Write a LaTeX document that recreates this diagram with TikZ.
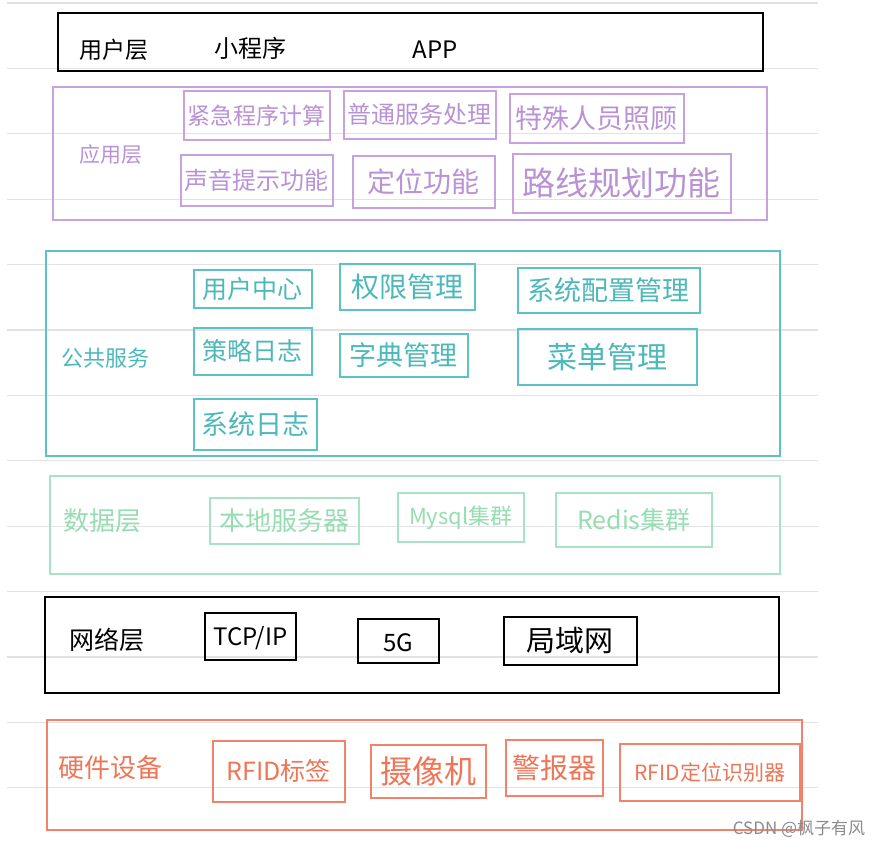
\documentclass[tikz,border=0pt]{standalone}
\usepackage{fontspec}
\newfontfamily\cjk{Noto Sans CJK SC}
\definecolor{purp}{HTML}{C8A2DE}
\definecolor{purpt}{HTML}{B992D6}
\definecolor{teal}{HTML}{5CC2C4}
\definecolor{tealt}{HTML}{4DB8BA}
\definecolor{grn}{HTML}{A8E4C2}
\definecolor{grnt}{HTML}{96DDB2}
\definecolor{orng}{HTML}{F2836A}
\definecolor{orngt}{HTML}{EE7657}
\definecolor{paperline}{HTML}{E2E2E2}
\tikzset{
  paper/.style={draw=paperline, line width=1.2pt},
  tx/.style={inner sep=0pt},
  blk/.style={draw=black, line width=1.8pt, inner sep=0pt},
  blkout/.style={draw=black, line width=2.2pt, inner sep=0pt},
  blktxt/.style={tx, text=black},
  pur/.style={draw=purp, line width=1.6pt, inner sep=0pt},
  purtxt/.style={tx, text=purpt},
  tea/.style={draw=teal, line width=1.6pt, inner sep=0pt},
  teatxt/.style={tx, text=tealt},
  gre/.style={draw=grn, line width=1.6pt, inner sep=0pt},
  gretxt/.style={tx, text=grnt},
  ora/.style={draw=orng, line width=1.6pt, inner sep=0pt},
  oratxt/.style={tx, text=orngt},
}
\newcommand\cjkph{\vphantom{国}}
% name, style, x1, y1, x2, y2, text, fontsize
\newcommand\ibox[8]{%
  \node[#2, anchor=north west, minimum width={(#5-#3)*1pt}, minimum height={(#6-#4)*1pt}] (#1) at (#3,#4) {};
  \node[#2txt, font=\cjk\fontsize{#8}{#8}\selectfont] (#1t) at (#1.center) {\cjkph#7};
}
\newcommand\lbl[5]{% name, style, x, y, text/fontsize
  \node[#2, font=\cjk\fontsize{#5}{#5}\selectfont] (#1) at (#3) {\cjkph#4};
}
\begin{document}
\begin{tikzpicture}[x=1pt,y=-1pt]
\useasboundingbox[fill=white] (0,0) rectangle (882,848);
% lined paper
\foreach \k in {0,...,12} {
  \draw[paper] (7,{3+65.4*\k}) -- (818,{3+65.4*\k});
}
% user layer
\node[blkout, anchor=north west, minimum width=705pt, minimum height=58pt] (user) at (57,12) {};
\lbl{userl}{blktxt}{114,50}{用户层}{23}
\lbl{mini}{blktxt}{250,48}{小程序}{24}
\lbl{app}{blktxt}{435,50}{APP}{24}
% application layer
\node[pur, anchor=north west, minimum width=714pt, minimum height=133pt] (appl) at (52,86) {};
\lbl{appll}{purtxt}{111,155}{应用层}{21}
\ibox{a1}{pur}{183}{90}{329}{139}{紧急程序计算}{23}
\ibox{a2}{pur}{343}{90}{495}{138}{普通服务处理}{24}
\ibox{a3}{pur}{509}{93}{683}{142}{特殊人员照顾}{27}
\ibox{a4}{pur}{180}{154}{332}{205}{声音提示功能}{24}
\ibox{a5}{pur}{352}{155}{494}{207}{定位功能}{28}
\ibox{a6}{pur}{512}{153}{730}{212}{路线规划功能}{33}
% public service
\node[tea, anchor=north west, minimum width=734pt, minimum height=205pt] (pub) at (45,250) {};
\lbl{publ}{teatxt}{105,358}{公共服务}{22}
\ibox{p1}{tea}{193}{269}{311}{307}{用户中心}{25}
\ibox{p2}{tea}{339}{263}{474}{309}{权限管理}{28}
\ibox{p3}{tea}{517}{267}{699}{312}{系统配置管理}{27}
\ibox{p4}{tea}{193}{327}{311}{374}{策略日志}{25}
\ibox{p5}{tea}{339}{333}{467}{376}{字典管理}{27}
\ibox{p6}{tea}{517}{328}{696}{384}{菜单管理}{30}
\ibox{p7}{tea}{193}{398}{316}{449}{系统日志}{27}
% data layer
\node[gre, anchor=north west, minimum width=730pt, minimum height=98pt] (data) at (49,475) {};
\lbl{datal}{gretxt}{102,521}{数据层}{26}
\ibox{d1}{gre}{209}{497}{358}{543}{本地服务器}{26}
\ibox{d2}{gre}{397}{492}{523}{541}{Mysql集群}{22}
\ibox{d3}{gre}{555}{492}{711}{546}{Redis集群}{25}
% network layer
\node[blkout, anchor=north west, minimum width=734pt, minimum height=96pt] (net) at (44,596) {};
\lbl{netl}{blktxt}{107,640}{网络层}{25}
\ibox{n1}{blk}{204}{612}{295}{659}{\raisebox{-3pt}{TCP/IP}}{24}
\ibox{n2}{blk}{357}{618}{438}{662}{\raisebox{-3pt}{5G}}{24}
\ibox{n3}{blk}{503}{616}{636}{664}{局域网}{29}
% hardware
\node[ora, anchor=north west, minimum width=755pt, minimum height=110pt] (hw) at (46,719) {};
\lbl{hwl}{oratxt}{110,768}{硬件设备}{26}
\ibox{h1}{ora}{212}{740}{344}{801}{RFID标签}{25}
\ibox{h2}{ora}{370}{744}{485}{797}{摄像机}{32}
\ibox{h3}{ora}{505}{739}{602}{795}{警报器}{28}
\ibox{h4}{ora}{619}{743}{799}{800}{RFID定位识别器}{21}
% watermark
\node[tx, text=gray!90, font=\cjk\fontsize{17}{17}\selectfont] (wm) at (799,829) {CSDN @枫子有风};
\end{tikzpicture}
\end{document}
